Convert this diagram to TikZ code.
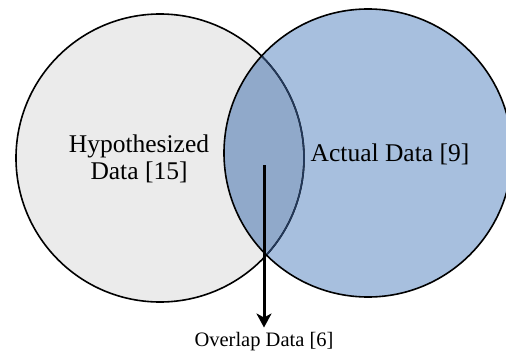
\documentclass[tikz,border=0pt]{standalone}
\usepackage{fontspec}
\setmainfont{Liberation Serif}
\usetikzlibrary{arrows.meta}

\definecolor{hypogray}{HTML}{EBEBEB}
\definecolor{actualblue}{HTML}{A7BFDE}
\definecolor{overlapblue}{HTML}{90A9CA}
\definecolor{rimnavy}{HTML}{22385A}

\tikzset{
    setcircle/.style={circle, minimum size=288pt, inner sep=0pt, line width=1.6pt},
    biglabel/.style={font=\fontsize{25.5}{27.5}\selectfont, align=center},
    smalllabel/.style={font=\fontsize{20.5}{22}\selectfont, inner sep=1pt}
}

\begin{document}
\begin{tikzpicture}[x=1pt, y=-1pt]
        \useasboundingbox (0,0) rectangle (506,353);
        \clip (0,0) rectangle (506,353);

        % 两个集合
        \node[setcircle, fill=hypogray] (hypo) at (160,158) {};
        \node[setcircle, fill=actualblue] (actual) at (368,153) {};

        % 交集区域
        \begin{scope}
            \clip (hypo.center) circle (144pt);
            \fill[overlapblue] (actual.center) circle (144pt);
        \end{scope}

        % 边框
        \draw[line width=1.6pt] (hypo.center) circle (144pt);
        \begin{scope}
            \clip (actual.center) circle (144pt);
            \draw[line width=1.6pt, rimnavy] (hypo.center) circle (144pt);
        \end{scope}
        \draw[line width=1.6pt] (actual.center) circle (144pt);

        % 文字
        \node[biglabel] (hypotxt) at (139,159) {Hypothesized\\Data [15]};
        \node[biglabel] (actualtxt) at (390,154) {Actual Data [9]};
        \node[smalllabel] (overlaptxt) at (264,342) {Overlap Data [6]};

        % 箭头
        \coordinate (arrow_top) at (264,165);
        \draw[line width=3pt, shorten >=4pt, -{Stealth[length=14pt, width=15pt, inset=4pt]}]
            (arrow_top) -- (arrow_top |- overlaptxt.north);
    \end{tikzpicture}
\end{document}
